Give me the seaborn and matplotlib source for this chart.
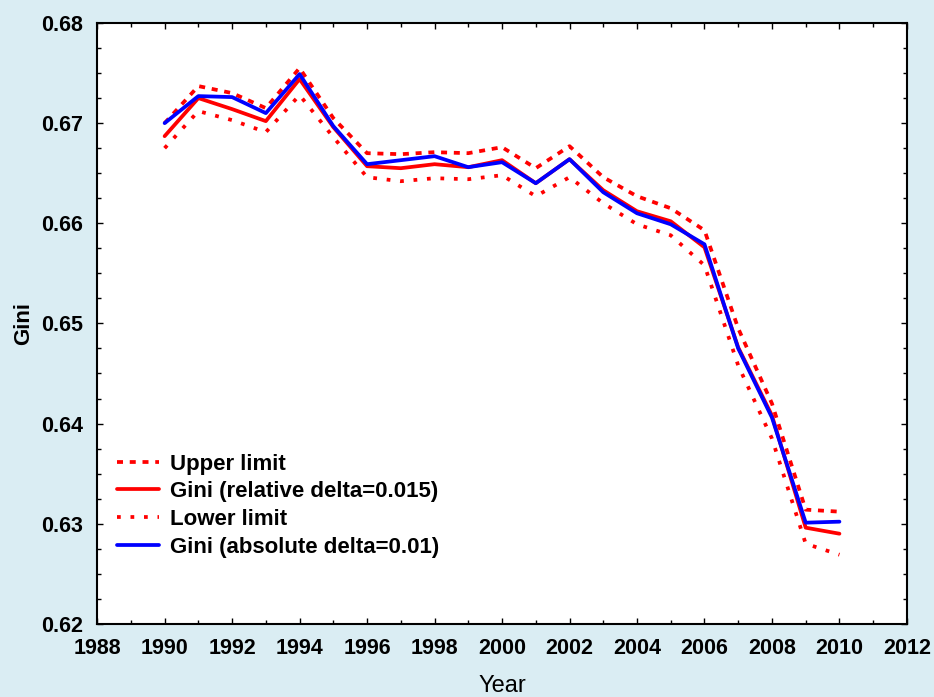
import matplotlib
matplotlib.use("Agg")
import matplotlib.pyplot as plt
import seaborn as sns
import pandas as pd
from matplotlib.ticker import MultipleLocator

years = list(range(1990, 2011))
upper_limit = [0.6700, 0.6737, 0.6730, 0.6715, 0.6755, 0.6705, 0.6670, 0.6669, 0.6671, 0.6670,
               0.6676, 0.6655, 0.6677, 0.6646, 0.6627, 0.6615, 0.6593, 0.6495, 0.6420, 0.6314, 0.6312]
gini_relative = [0.6687, 0.6725, 0.6714, 0.6702, 0.6744, 0.6696, 0.6657, 0.6655, 0.6659, 0.6656,
                 0.6663, 0.6640, 0.6664, 0.6633, 0.6612, 0.6602, 0.6576, 0.6476, 0.6408, 0.6296, 0.6290]
lower_limit = [0.6675, 0.6712, 0.6703, 0.6691, 0.6728, 0.6686, 0.6646, 0.6642, 0.6645, 0.6644,
               0.6648, 0.6627, 0.6646, 0.6620, 0.6599, 0.6588, 0.6558, 0.6458, 0.6385, 0.6280, 0.6269]
gini_absolute = [0.6700, 0.6727, 0.6726, 0.6710, 0.6749, 0.6697, 0.6659, 0.6663, 0.6667, 0.6656,
                 0.6661, 0.6640, 0.6664, 0.6631, 0.6610, 0.6599, 0.6579, 0.6475, 0.6406, 0.6301, 0.6302]

series_names = ["Upper limit", "Gini (relative delta=0.015)", "Lower limit", "Gini (absolute delta=0.01)"]
series_values = [upper_limit, gini_relative, lower_limit, gini_absolute]
x_ticks = list(range(1988, 2013, 2))
y_ticks = [0.62, 0.63, 0.64, 0.65, 0.66, 0.67, 0.68]

sns.set_style("white")
plt.rcParams['font.family'] = ['Liberation Sans', 'DejaVu Sans']
plt.rcParams['text.color'] = 'black'
plt.rcParams['axes.labelcolor'] = 'black'
plt.rcParams['xtick.color'] = 'black'
plt.rcParams['ytick.color'] = 'black'

bg = "#daedf3"
fig = plt.figure(figsize=(9.34, 6.97), dpi=100, facecolor=bg)
ax = fig.add_axes([0.104, 0.105, 0.867, 0.862])
ax.set_facecolor("white")

colors = ["#ff0000", "#ff0000", "#ff0000", "#0000ff"]
dashes = [(1.6, 1.8), None, (1.0, 2.6), None]

for name, vals, c, d in zip(series_names, series_values, colors, dashes):
    df = pd.DataFrame({"Year": years, "Gini": vals})
    sns.lineplot(data=df, x="Year", y="Gini", ax=ax, color=c, linewidth=2.7, label=name)
    if d is not None:
        ax.lines[-1].set_dashes(d)

ax.set_xlim(1988, 2012)
ax.set_ylim(0.62, 0.68)
ax.set_xticks(x_ticks)
ax.set_yticks(y_ticks)
ax.set_xticklabels([str(t) for t in x_ticks])
ax.set_yticklabels([f"{t:.2f}" for t in y_ticks])
ax.xaxis.set_minor_locator(MultipleLocator(1))
ax.yaxis.set_minor_locator(MultipleLocator(0.0025))
ax.tick_params(which="both", direction="in", top=True, right=True, bottom=True, left=True,
               width=1.0, color="black")
ax.tick_params(which="major", length=4, labelsize=15.5, pad=10)
ax.tick_params(which="minor", length=3)
for lab in ax.get_xticklabels() + ax.get_yticklabels():
    lab.set_fontweight("bold")

for s in ax.spines.values():
    s.set_visible(True)
    s.set_color("black")
    s.set_linewidth(1.5)

ax.set_xlabel("Year", fontsize=17, labelpad=12)
ax.set_ylabel("Gini", fontsize=16, fontweight="bold", labelpad=5)

leg = ax.legend(loc="lower left", bbox_to_anchor=(0.0, 0.077), frameon=False,
                prop={"weight": "bold", "size": 16}, handlelength=1.9,
                labelspacing=0.3, handletextpad=0.5)

fig.savefig("out.png", dpi=100, facecolor=bg)
